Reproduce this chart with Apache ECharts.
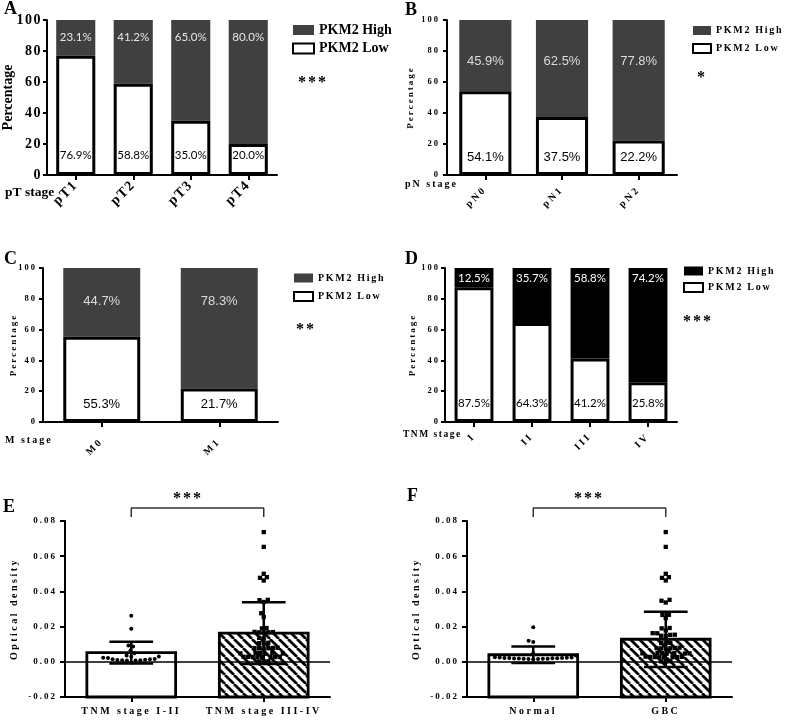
<!DOCTYPE html>
<html><head><meta charset="utf-8">
<script src="https://cdn.jsdelivr.net/npm/echarts@6/dist/echarts.min.js"></script>
<style>html,body{margin:0;padding:0;background:#fff}#chart{width:787px;height:721px}</style>
</head><body><div id="chart"></div>
<script>
// ---------------- data ----------------
const pctAxis = [0, 100, 20];           // min, max, interval
const odAxis = [-0.02, 0.08, 0.02];     // min, max, interval

const aCategories = ['pT1', 'pT2', 'pT3', 'pT4'];
const aLow  = [76.9, 58.8, 35.0, 20.0];
const aHigh = [23.1, 41.2, 65.0, 80.0];

const bCategories = ['pN0', 'pN1', 'pN2'];
const bLow  = [54.1, 37.5, 22.2];
const bHigh = [45.9, 62.5, 77.8];

const cCategories = ['M0', 'M1'];
const cLow  = [55.3, 21.7];
const cHigh = [44.7, 78.3];

const dCategories = ['I', 'II', 'III', 'IV'];
const dLow  = [87.5, 64.3, 41.2, 25.8];
const dHigh = [12.5, 35.7, 58.8, 74.2];

const eCategories = ['TNM stage I-II', 'TNM stage III-IV'];
const eMean = [0.0052, 0.0163];
const eSD   = [0.0062, 0.0176];
const eEarlyValues = [0.0261, 0.0188, 0.0093, 0.0087, 0.0064, 0.0049, 0.0036, 0.0030, 0.0029, 0.0023, 0.0022,
  0.0015, 0.0014, 0.0011, 0.0010, 0.0009, 0.0009, 0.0008, 0.0008, 0.0016, -0.0004];
const eLateValues = [0.0737, 0.0653, 0.0500, 0.0481, 0.0477, 0.0462, 0.0352, 0.0350, 0.0340, 0.0276, 0.0254,
  0.0192, 0.0190, 0.0170, 0.0169, 0.0166, 0.0168, 0.0167, 0.0136, 0.0132, 0.0108, 0.0106, 0.0104,
  0.0080, 0.0079, 0.0078, 0.0077, 0.0076, 0.0075, 0.0050, 0.0049, 0.0048, 0.0047, 0.0050, 0.0046,
  0.0028, 0.0027, 0.0026, 0.0029, 0.0025, 0.0027, 0.0028, 0.0026, 0.0003, 0.0002, 0.0001];

const fCategories = ['Normal', 'GBC'];
const fMean = [0.0040, 0.0128];
const fSD   = [0.0047, 0.0157];
const fNormalValues = [0.0197, 0.0119, 0.0112, 0.0049, 0.0036, 0.0026, 0.0025, 0.0024, 0.0023, 0.0022, 0.0021,
  0.0021, 0.0020, 0.0020, 0.0019, 0.0019, 0.0018, 0.0018, 0.0017, 0.0016, 0.0016, 0.0015];
const fGbcValues = [0.0737, 0.0653, 0.0500, 0.0481, 0.0477, 0.0462, 0.0352, 0.0347, 0.0337, 0.0267, 0.0266,
  0.0248, 0.0192, 0.0190, 0.0178, 0.0163, 0.0153, 0.0148, 0.0147, 0.0154, 0.0162,
  0.0108, 0.0106, 0.0104, 0.0080, 0.0079, 0.0078, 0.0077, 0.0076, 0.0075, 0.0050, 0.0049, 0.0048,
  0.0047, 0.0046, 0.0050, 0.0048, 0.0028, 0.0027, 0.0026, 0.0029, 0.0025, 0.0027, 0.0028, 0.0026,
  0.0003, 0.0002, 0.0001];

// ---------------- letter spacing support (font family tag lsNN => NN/10 px) ----------------
(function () {
  const P = CanvasRenderingContext2D.prototype;
  ['fillText', 'strokeText'].forEach(function (fn) {
    const orig = P[fn];
    P[fn] = function (t, x, y, m) {
      const mm = /ls(\d+)/.exec(this.font || '');
      try { this.letterSpacing = mm ? (parseInt(mm[1], 10) / 10) + 'px' : '0px'; } catch (e) {}
      return m === undefined ? orig.call(this, t, x, y) : orig.call(this, t, x, y, m);
    };
  });
})();

const SERIF = "'Liberation Serif'";
const sp = n => "'Liberation Serif', ls" + n;
const DARK = '#404040';

// hatch pattern
const hatch = (function () {
  const s = 9, c = document.createElement('canvas');
  c.width = s; c.height = s;
  const g = c.getContext('2d');
  g.fillStyle = '#fff'; g.fillRect(0, 0, s, s);
  g.strokeStyle = '#000'; g.lineWidth = 2.7;
  for (let k = -1; k <= 1; k++) { g.beginPath(); g.moveTo(k * s, 0); g.lineTo(k * s + s, s); g.stroke(); }
  return c;
})();

// ---------------- helpers ----------------
const grids = [
  { left: 47, top: 20, width: 230, height: 155 },
  { left: 447, top: 20, width: 230, height: 155 },
  { left: 43, top: 268, width: 235, height: 154 },
  { left: 445, top: 268, width: 232, height: 154 },
  { left: 65, top: 521, width: 265, height: 176 },
  { left: 467, top: 521, width: 265, height: 176 }
].map(g => Object.assign({ outerBoundsMode: 'none', containLabel: false }, g));

const axisLineStyle = { color: '#000', width: 2 };

function pctX(g, cats, font, size, margin) {
  return {
    type: 'category', gridIndex: g, data: cats,
    axisLine: { show: true, onZero: false, lineStyle: axisLineStyle },
    axisTick: { show: true, alignWithLabel: true, length: 5, lineStyle: axisLineStyle },
    axisLabel: { show: true, rotate: 45, interval: 0, margin: margin, color: '#000', fontFamily: font, fontWeight: 'bold', fontSize: size },
    splitLine: { show: false }
  };
}
function pctY(g, font, size, margin, nameFont, nameSize, nameGap) {
  return {
    type: 'value', gridIndex: g, min: pctAxis[0], max: pctAxis[1], interval: pctAxis[2],
    axisLine: { show: true, lineStyle: axisLineStyle },
    axisTick: { show: true, length: 4, lineStyle: axisLineStyle },
    axisLabel: { show: true, margin: margin, color: '#000', fontFamily: font, fontWeight: 'bold', fontSize: size },
    splitLine: { show: false },
    name: 'Percentage', nameLocation: 'middle', nameGap: nameGap,
    nameTextStyle: { color: '#000', fontFamily: nameFont, fontWeight: 'bold', fontSize: nameSize }
  };
}
const pctFmt = p => Number(p.value).toFixed(1) + '%';
function stackSeries(g, low, high, opts) {
  return [
    {
      type: 'bar', name: 'PKM2 Low', xAxisIndex: g, yAxisIndex: g, stack: 'st' + g, data: low,
      barWidth: opts.bw, z: 3, itemStyle: { color: '#fff', borderColor: '#000', borderWidth: 3 },
      label: { show: true, position: 'insideBottom', distance: opts.botDist, formatter: pctFmt,
        color: '#000', fontFamily: opts.font, fontSize: opts.size },
      emphasis: { disabled: true }, silent: true
    },
    {
      type: 'bar', name: 'PKM2 High', xAxisIndex: g, yAxisIndex: g, stack: 'st' + g, data: high,
      barWidth: opts.bw, z: 2, itemStyle: { color: opts.highColor, borderWidth: 0 },
      label: { show: true, position: 'insideTop', distance: opts.topDist, formatter: pctFmt,
        color: opts.highText, fontFamily: opts.font, fontSize: opts.size },
      emphasis: { disabled: true }, silent: true
    }
  ];
}

function odX(g, cats) {
  return {
    type: 'category', gridIndex: g, data: cats,
    axisLine: { show: true, onZero: false, lineStyle: axisLineStyle },
    axisTick: { show: true, alignWithLabel: true, length: 5, lineStyle: axisLineStyle },
    axisLabel: { show: true, interval: 0, margin: 9, color: '#000', fontFamily: sp(25), fontWeight: 'bold', fontSize: 10 },
    splitLine: { show: false }
  };
}
function odY(g) {
  return {
    type: 'value', gridIndex: g, min: odAxis[0], max: odAxis[1], interval: odAxis[2],
    axisLine: { show: true, onZero: false, lineStyle: axisLineStyle },
    axisTick: { show: true, length: 5, lineStyle: axisLineStyle },
    axisLabel: { show: true, margin: 8, color: '#000', fontFamily: sp(20), fontWeight: 'bold', fontSize: 9,
      formatter: v => (Math.abs(v) < 1e-9 ? 0 : v).toFixed(2) },
    splitLine: { show: false },
    name: 'Optical density', nameLocation: 'middle', nameGap: 46,
    nameTextStyle: { color: '#000', fontFamily: sp(25), fontWeight: 'bold', fontSize: 10 }
  };
}
function barRender(fills) {
  return function (params, api) {
    const i = api.value(0);
    const top = api.coord([i, api.value(1)]);
    const bot = api.coord([i, odAxis[0]]);
    const w = api.size([1, 0])[0] * 0.67;
    return { type: 'rect', shape: { x: top[0] - w / 2, y: top[1], width: w, height: bot[1] - top[1] },
      style: { fill: fills[params.dataIndex], stroke: '#000', lineWidth: 2.8 } };
  };
}
function errRender(params, api) {
  const i = api.value(0), m = api.value(1), s = api.value(2);
  const p1 = api.coord([i, m + s]), p2 = api.coord([i, m - s]);
  const cw = api.size([1, 0])[0] * 0.33;
  const st = { stroke: '#000', lineWidth: 2.5 };
  return { type: 'group', children: [
    { type: 'line', shape: { x1: p1[0], y1: p1[1], x2: p2[0], y2: p2[1] }, style: st },
    { type: 'line', shape: { x1: p1[0] - cw / 2, y1: p1[1], x2: p1[0] + cw / 2, y2: p1[1] }, style: st },
    { type: 'line', shape: { x1: p2[0] - cw / 2, y1: p2[1], x2: p2[0] + cw / 2, y2: p2[1] }, style: st }
  ] };
}
// beeswarm layout done in pixel space from the axis scale
function swarmRender(shape, size, minDist) {
  let layout = null;
  return function (params, api) {
    if (params.dataIndexInside === 0 || !layout) {
      const n = params.dataInsideLength;
      const pts = [];
      for (let k = 0; k < n; k++) {
        const v = api.value(1, k);
        const c = api.coord([api.value(0, k), v]);
        pts.push({ k: k, v: v, cx: c[0], cy: c[1] });
      }
      const order = pts.slice().sort((a, b) => a.v - b.v);
      const placed = [];
      layout = new Array(n);
      order.forEach(p => {
        const blocks = [];
        placed.forEach(q => {
          const dy = p.cy - q.y;
          if (Math.abs(dy) < minDist) {
            const h = Math.sqrt(minDist * minDist - dy * dy);
            blocks.push([q.dx - h, q.dx + h]);
          }
        });
        const cands = [0];
        blocks.forEach(b => cands.push(b[0], b[1]));
        cands.sort((a, b) => (Math.abs(a) - Math.abs(b)) || (a - b));
        let dx = 0;
        for (const c of cands) {
          if (blocks.every(b => c <= b[0] + 1e-6 || c >= b[1] - 1e-6)) { dx = c; break; }
        }
        placed.push({ y: p.cy, dx: dx });
        layout[p.k] = [p.cx + dx, p.cy];
      });
    }
    const pt = layout[params.dataIndexInside];
    if (shape === 'circle') {
      return { type: 'circle', shape: { cx: pt[0], cy: pt[1], r: size / 2 }, style: { fill: '#000' } };
    }
    return { type: 'rect', shape: { x: pt[0] - size / 2, y: pt[1] - size / 2, width: size, height: size }, style: { fill: '#000' } };
  };
}
function odSeries(g, means, sds, lowVals, highVals, lowShape) {
  return [
    { type: 'custom', xAxisIndex: g, yAxisIndex: g, z: 2, silent: true,
      data: means.map((m, i) => [i, m]), renderItem: barRender(['#fff', { image: hatch, repeat: 'repeat' }]) },
    { type: 'custom', xAxisIndex: g, yAxisIndex: g, z: 4, silent: true,
      data: means.map((m, i) => [i, m, sds[i]]), renderItem: errRender,
      markLine: { silent: true, symbol: ['none', 'none'], label: { show: false }, animation: false,
        lineStyle: { color: '#000', width: 1.5, type: 'solid' }, data: [{ yAxis: 0 }] } },
    { type: 'custom', xAxisIndex: g, yAxisIndex: g, z: 5, silent: true,
      data: lowVals.map(v => [0, v]), renderItem: swarmRender(lowShape, 4, 4.8) },
    { type: 'custom', xAxisIndex: g, yAxisIndex: g, z: 5, silent: true,
      data: highVals.map(v => [1, v]), renderItem: swarmRender('rect', 4.3, 4.6) },
    { type: 'line', xAxisIndex: g, yAxisIndex: g, z: 5, silent: true, clip: false, symbol: 'none', showSymbol: false,
      data: [[0, 0.0823], [0, 0.0874], [1, 0.0874], [1, 0.0823]],
      lineStyle: { color: '#333', width: 1.5 } }
  ];
}

function legendFor(left, top, iw, ih, gap, font, size, highColor) {
  return {
    left: left, top: top, orient: 'vertical', itemWidth: iw, itemHeight: ih, itemGap: gap, padding: 0,
    icon: 'rect', selectedMode: false,
    textStyle: { color: '#000', fontFamily: font, fontWeight: 'bold', fontSize: size },
    data: [
      { name: 'PKM2 High', icon: 'rect', itemStyle: { color: highColor, borderWidth: 0 } },
      { name: 'PKM2 Low', icon: 'rect', itemStyle: { color: '#fff', borderColor: '#000', borderWidth: 2 } }
    ]
  };
}
function txt(text, x, y, font, align) {
  return { type: 'text', x: x, y: y, silent: true,
    style: { text: text, font: font, fill: '#000', align: align || 'left', verticalAlign: 'middle' } };
}

const option = {
  animation: false,
  backgroundColor: '#fff',
  grid: grids,
  xAxis: [
    pctX(0, aCategories, "'Liberation Serif', ls15", 14, 8),
    pctX(1, bCategories, sp(25), 10, 13),
    pctX(2, cCategories, sp(25), 10, 18),
    pctX(3, dCategories, sp(25), 10, 13),
    odX(4, eCategories),
    odX(5, fCategories)
  ],
  yAxis: [
    pctY(0, "'Liberation Serif', ls15", 14, 5, SERIF, 14, 32),
    pctY(1, sp(20), 8.5, 7, sp(20), 9, 32),
    pctY(2, sp(20), 8.5, 6, sp(20), 9, 25),
    pctY(3, sp(20), 8.5, 5, sp(20), 9, 28),
    odY(4),
    odY(5)
  ],
  legend: [
    legendFor(292, 23, 21, 10, 4.5, SERIF, 14, DARK),
    legendFor(692, 25.5, 18, 9, 7.5, sp(17), 10, DARK),
    legendFor(293, 273, 19, 9, 8, sp(17), 10, DARK),
    legendFor(683, 266, 19, 9, 6, sp(17), 10, '#000')
  ],
  series: [].concat(
    stackSeries(0, aLow, aHigh, { bw: '68%', highColor: DARK, highText: '#e6e6e6', font: 'Lato', size: 11.5, topDist: 11, botDist: 14 }),
    stackSeries(1, bLow, bHigh, { bw: '68%', highColor: DARK, highText: '#dcdcdc', font: "'Liberation Sans'", size: 13, topDist: 35, botDist: 11 }),
    stackSeries(2, cLow, cHigh, { bw: '65.5%', highColor: DARK, highText: '#dcdcdc', font: "'Liberation Sans'", size: 13, topDist: 27, botDist: 11 }),
    stackSeries(3, dLow, dHigh, { bw: '67%', highColor: '#000', highText: '#fff', font: 'Lato', size: 11.5, topDist: 4, botDist: 13 }),
    odSeries(4, eMean, eSD, eEarlyValues, eLateValues, 'circle'),
    odSeries(5, fMean, fSD, fNormalValues, fGbcValues, 'circle')
  ),
  graphic: [
    txt('A', 4, 9, "bold 18px 'Liberation Serif'"),
    txt('B', 405, 10, "bold 18px 'Liberation Serif'"),
    txt('C', 4, 259, "bold 18px 'Liberation Serif'"),
    txt('D', 405, 259, "bold 18px 'Liberation Serif'"),
    txt('E', 3, 507, "bold 18px 'Liberation Serif'"),
    txt('F', 407, 496, "bold 18px 'Liberation Serif'"),
    txt('pT stage', 5, 193, "bold 13.5px 'Liberation Serif'"),
    txt('pN stage', 405, 184, "bold 10px 'Liberation Serif', ls20"),
    txt('M stage', 5, 440, "bold 10px 'Liberation Serif', ls20"),
    txt('TNM stage', 403, 435, "bold 9.5px 'Liberation Serif', ls15"),
    txt('***', 313, 83, "bold 16px 'Liberation Serif', ls20", 'center'),
    txt('*', 702, 78, "bold 16px 'Liberation Serif', ls20", 'center'),
    txt('**', 306, 330, "bold 16px 'Liberation Serif', ls20", 'center'),
    txt('***', 698, 322, "bold 16px 'Liberation Serif', ls20", 'center'),
    txt('***', 188, 499, "bold 16px 'Liberation Serif', ls20", 'center'),
    txt('***', 589, 499, "bold 16px 'Liberation Serif', ls20", 'center')
  ]
};

const chart = echarts.init(document.getElementById('chart'), null, { renderer: 'canvas' });
chart.setOption(option);
</script>
</body></html>
